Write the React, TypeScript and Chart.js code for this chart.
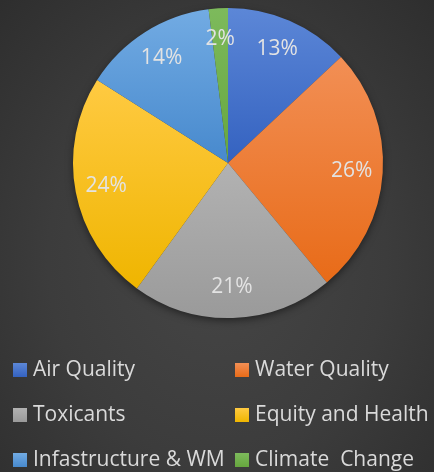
import React, { useEffect, useRef } from "react";
import { Chart, registerables } from "chart.js";

Chart.register(...registerables);

const categories = ["Air Quality", "Water Quality", "Toxicants", "Equity and Health", "Infastructure & WM", "Climate  Change"];
const values = [13, 26, 21, 24, 14, 2];
const topColors = ["#5c87d7", "#f28f55", "#b2b2b2", "#ffca42", "#72abe3", "#7dba5c"];
const bottomColors = ["#3462c0", "#e86b18", "#9a9a9a", "#efb500", "#4789cd", "#66a63e"];

function sliceBounds(index: number, cx: number, cy: number, r: number) {
  const total = values.reduce((a, b) => a + b, 0);
  let before = 0;
  for (let i = 0; i < index; i++) before += values[i];
  const a0 = -Math.PI / 2 + (before / total) * Math.PI * 2;
  const a1 = a0 + (values[index] / total) * Math.PI * 2;
  const ys = [cy, cy + r * Math.sin(a0), cy + r * Math.sin(a1)];
  for (let k = -2; k <= 2; k++) {
    const a = Math.PI / 2 + k * Math.PI;
    if (a >= a0 && a <= a1) ys.push(cy + r * Math.sin(a));
  }
  return [Math.min(...ys), Math.max(...ys)];
}

const shadowPlugin = {
  id: "pieShadow",
  beforeDatasetsDraw(chart: any) {
    const arc = chart.getDatasetMeta(0).data[0];
    if (!arc) return;
    const { x, y, outerRadius } = arc.getProps(["x", "y", "outerRadius"], true);
    const ctx = chart.ctx;
    ctx.save();
    ctx.shadowColor = "rgba(0,0,0,0.55)";
    ctx.shadowBlur = 9;
    ctx.shadowOffsetY = 3;
    ctx.fillStyle = "#3a3a3a";
    ctx.beginPath();
    ctx.arc(x, y, outerRadius - 1, 0, Math.PI * 2);
    ctx.fill();
    ctx.restore();
  },
};

const labelPlugin = {
  id: "pctLabels",
  afterDatasetsDraw(chart: any) {
    const ctx = chart.ctx;
    const meta = chart.getDatasetMeta(0);
    const total = values.reduce((a, b) => a + b, 0);
    ctx.save();
    ctx.font = '21px "Open Sans"';
    ctx.fillStyle = "#e3e3e3";
    ctx.textAlign = "center";
    ctx.textBaseline = "middle";
    meta.data.forEach((arc: any, i: number) => {
      const { x, y, startAngle, endAngle, outerRadius } = arc.getProps(["x", "y", "startAngle", "endAngle", "outerRadius"], true);
      const mid = (startAngle + endAngle) / 2;
      const rr = outerRadius * 0.8;
      ctx.fillText(Math.round((values[i] / total) * 100) + "%", x + Math.cos(mid) * rr, y + Math.sin(mid) * rr);
    });
    ctx.restore();
  },
};

export default function App() {
  const ref = useRef<HTMLCanvasElement>(null);
  useEffect(() => {
    if (!ref.current) return;
    const chart = new Chart(ref.current, {
      type: "pie",
      data: {
        labels: categories,
        datasets: [
          {
            data: values,
            borderWidth: 0,
            backgroundColor: (c: any) => {
              const ch = c.chart;
              const area = ch.chartArea;
              const i = c.dataIndex;
              if (!area || i === undefined) return topColors[i ?? 0];
              const cx = (area.left + area.right) / 2;
              const cy = (area.top + area.bottom) / 2;
              const r = Math.min(area.right - area.left, area.bottom - area.top) / 2;
              const [y0, y1] = sliceBounds(i, cx, cy, r);
              const g = ch.ctx.createLinearGradient(0, y0, 0, y1);
              g.addColorStop(0, topColors[i]);
              g.addColorStop(1, bottomColors[i]);
              return g;
            },
          },
        ],
      },
      options: {
        animation: false,
        responsive: false,
        maintainAspectRatio: false,
        layout: { padding: { left: 73, right: 51, top: 8, bottom: 12 } },
        plugins: { legend: { display: false }, tooltip: { enabled: false } },
      },
      plugins: [shadowPlugin, labelPlugin],
    });
    return () => chart.destroy();
  }, []);

  const rowTops = [363, 408, 453];
  const colX = [13, 235];

  return (
    <div
      style={{
        position: "fixed",
        left: 0,
        top: 0,
        width: 434,
        height: 472,
        background: "radial-gradient(ellipse at 50% 55%, #464646 0%, #3c3c3c 55%, #2e2e2e 100%)",
        overflow: "hidden",
        fontFamily: '"Open Sans", sans-serif',
      }}
    >
      <canvas ref={ref} width={434} height={330} style={{ position: "absolute", left: 0, top: 0, width: 434, height: 330 }} />
      {categories.map((name, i) => {
        const row = Math.floor(i / 2);
        const col = i % 2;
        return (
          <div key={name} style={{ position: "absolute", left: colX[col], top: rowTops[row], height: 14 }}>
            <div
              style={{
                position: "absolute",
                left: 0,
                top: 0,
                width: 14,
                height: 14,
                background: `linear-gradient(${topColors[i]}, ${bottomColors[i]})`,
              }}
            />
            <div
              style={{
                position: "absolute",
                left: 20,
                top: -8,
                fontSize: 21,
                lineHeight: "27px",
                color: "#dadada",
                whiteSpace: "pre",
              }}
            >
              {name}
            </div>
          </div>
        );
      })}
    </div>
  );
}
